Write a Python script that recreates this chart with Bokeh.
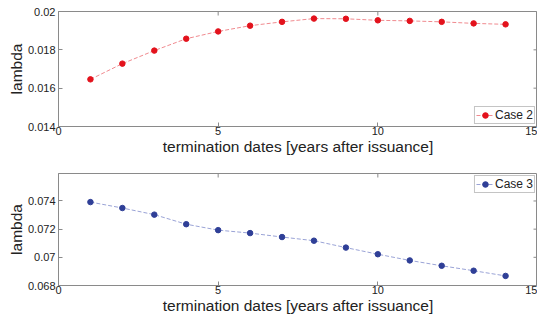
import math
from bokeh.plotting import figure
from bokeh.layouts import column
from bokeh.models import FixedTicker, NumeralTickFormatter, Range1d
from bokeh.embed import file_html
from bokeh.resources import INLINE

# ---- data ----
dates = [1, 2, 3, 4, 5, 6, 7, 8, 9, 10, 11, 12, 13, 14]
case2 = [0.01646, 0.01728, 0.01796, 0.01858, 0.01896, 0.01926, 0.01946, 0.01963,
         0.01962, 0.01954, 0.01951, 0.01946, 0.01938, 0.01933]
case3 = [0.07392, 0.07350, 0.07303, 0.07235, 0.07193, 0.07172, 0.07144, 0.07118,
         0.07069, 0.07022, 0.06978, 0.06940, 0.06905, 0.06868]
x_ticks = [0, 5, 10, 15]
y_ticks_top = [0.014, 0.016, 0.018, 0.02]
y_ticks_bottom = [0.068, 0.07, 0.072, 0.074]
x_label = "termination dates [years after issuance]"
y_label = "lambda"

FONT = "Liberation Sans"
AX = "#8a8a8a"
TXT = "#222222"


def make(ys, yr, yticks, color, lcolor, label, loc, height, btop, bbot):
    p = figure(width=537, height=height, output_backend="svg", toolbar_location=None,
               x_range=Range1d(0, 15), y_range=Range1d(*yr),
               min_border_left=58, min_border_right=0,
               min_border_top=btop, min_border_bottom=bbot)
    p.grid.visible = False
    p.outline_line_color = AX
    p.background_fill_color = "white"
    p.border_fill_color = "white"
    p.line(dates, ys, line_color=lcolor, line_width=1, line_dash="4 2", legend_label=label)
    p.scatter(dates, ys, size=5.5, fill_color=color, line_color=color, legend_label=label)

    # mirrored inward ticks on the top and right edges (clipped to the frame)
    p.scatter(x_ticks, [yr[1]] * len(x_ticks), marker="dash", size=8, angle=math.pi / 2,
              line_color=AX, line_width=1)
    p.scatter([15] * len(yticks), yticks, marker="dash", size=8,
              line_color=AX, line_width=1)

    for ax in (p.xaxis[0], p.yaxis[0]):
        ax.axis_line_color = AX
        ax.major_tick_line_color = AX
        ax.major_tick_in = 4
        ax.major_tick_out = 0
        ax.minor_tick_line_color = None
        ax.major_label_text_font = FONT
        ax.major_label_text_font_size = "11px"
        ax.major_label_text_color = TXT
        ax.axis_label_text_font = FONT
        ax.axis_label_text_font_size = "15.5px"
        ax.axis_label_text_font_style = "normal"
        ax.axis_label_text_color = TXT
    p.xaxis.ticker = FixedTicker(ticks=x_ticks)
    p.yaxis.ticker = FixedTicker(ticks=yticks)
    p.yaxis.formatter = NumeralTickFormatter(format="0.[000]")
    p.xaxis.axis_label = x_label
    p.yaxis.axis_label = y_label
    p.xaxis.major_label_standoff = 0
    p.xaxis.axis_label_standoff = 0
    p.yaxis.major_label_standoff = 3
    p.yaxis.axis_label_standoff = 0

    lg = p.legend[0]
    lg.location = loc
    lg.border_line_color = AX
    lg.label_text_font = FONT
    lg.label_text_font_size = "12px"
    lg.label_text_color = TXT
    lg.padding = 1
    lg.spacing = 0
    lg.margin = 2
    lg.glyph_width = 18
    lg.glyph_height = 14
    lg.label_height = 14
    lg.label_standoff = 1
    lg.background_fill_alpha = 1
    return p


p1 = make(case2, (0.014, 0.02), y_ticks_top, "#e3121c", "#f08a8f", "Case 2",
          "bottom_right", 166, 11, 40)
p2 = make(case3, (0.068, 0.07595), y_ticks_bottom, "#2f3f97", "#9aa3d6", "Case 3",
          "top_right", 150, 7, 30)

p = column(p1, p2)
open("out.html", "w").write(file_html(p, INLINE))
